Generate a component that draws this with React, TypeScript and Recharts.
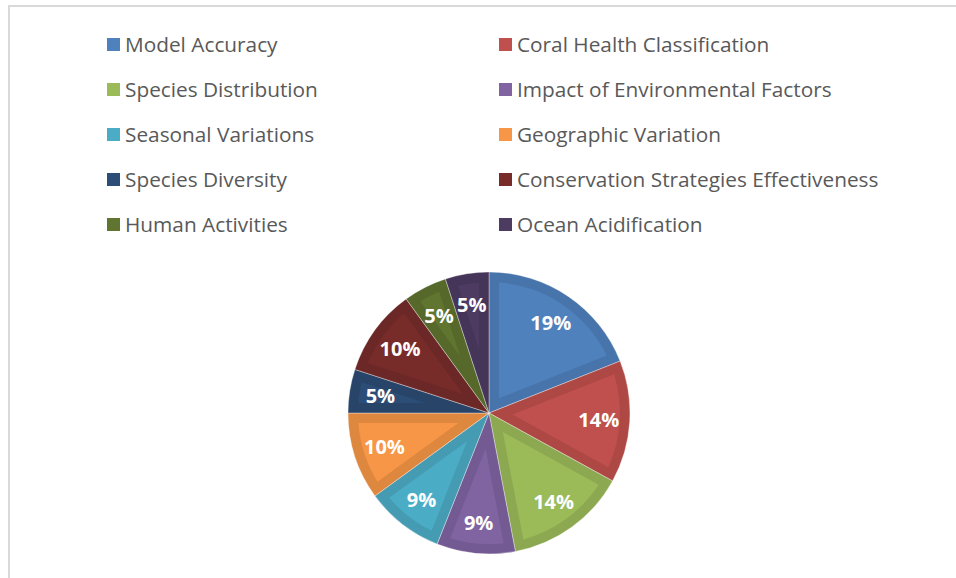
import { PieChart, Pie, Cell } from 'recharts';

const CATEGORIES = [
  'Model Accuracy',
  'Coral Health Classification',
  'Species Distribution',
  'Impact of Environmental Factors',
  'Seasonal Variations',
  'Geographic Variation',
  'Species Diversity',
  'Conservation Strategies Effectiveness',
  'Human Activities',
  'Ocean Acidification',
];

const SHARES = [19, 14, 14, 9, 9, 10, 5, 10, 5, 5];

const COLORS = [
  '#4F81BD',
  '#C0504D',
  '#9BBB59',
  '#8064A2',
  '#4BACC6',
  '#F79646',
  '#2C4D75',
  '#772C2A',
  '#5F7530',
  '#4D3B62',
];

const RADIAN = Math.PI / 180;
const BEVEL = 10;

// darker rim colour for the bevelled look
function shade(hex: string, k: number) {
  const n = parseInt(hex.slice(1), 16);
  const r = Math.round(((n >> 16) & 255) * k);
  const g = Math.round(((n >> 8) & 255) * k);
  const b = Math.round((n & 255) * k);
  return `rgb(${r},${g},${b})`;
}

function polar(cx: number, cy: number, r: number, angle: number) {
  return { x: cx + Math.cos(-angle * RADIAN) * r, y: cy + Math.sin(-angle * RADIAN) * r };
}

function renderSlice(props: any) {
  const { cx, cy, outerRadius, startAngle, endAngle, midAngle, index, percent } = props;
  const span = Math.abs(startAngle - endAngle);
  const half = (span / 2) * RADIAN;
  const R = outerRadius - BEVEL;
  const delta = Math.asin(BEVEL / R) / RADIAN;
  const apex = polar(cx, cy, BEVEL / Math.sin(half), midAngle);
  const p1 = polar(cx, cy, R, startAngle - delta);
  const p2 = polar(cx, cy, R, endAngle + delta);
  const large = span - 2 * delta > 180 ? 1 : 0;
  const d = `M${apex.x},${apex.y} L${p1.x},${p1.y} A${R},${R} 0 ${large} 1 ${p2.x},${p2.y} Z`;
  const pos = polar(cx, cy, outerRadius * 0.78, midAngle);
  return (
    <g key={`slice-${index}`}>
      <path d={d} fill={COLORS[index]} />
      <text
        x={pos.x}
        y={pos.y}
        fill="#ffffff"
        textAnchor="middle"
        dominantBaseline="central"
        fontFamily="'Open Sans', sans-serif"
        fontWeight={700}
        fontSize={20}
      >
        {`${Math.round(percent * 100)}%`}
      </text>
    </g>
  );
}

function LegendGrid() {
  return (
    <div style={{ position: 'absolute', left: 0, top: 0, width: 956, height: 250 }}>
      {CATEGORIES.map((name, i) => {
        const col = i % 2;
        const row = Math.floor(i / 2);
        return (
          <div
            key={name}
            style={{
              position: 'absolute',
              left: col === 0 ? 107 : 499,
              top: 45 + row * 45 - 15,
              height: 28,
              display: 'flex',
              alignItems: 'center',
              whiteSpace: 'nowrap',
              fontFamily: "'Open Sans', sans-serif",
              fontSize: 20.8,
              color: '#595959',
            }}
          >
            <span style={{ width: 13, height: 13, background: COLORS[i], marginRight: 5 }} />
            {name}
          </div>
        );
      })}
    </div>
  );
}

export default function App() {
  const data = CATEGORIES.map((name, i) => ({ name, value: SHARES[i] }));
  return (
    <div style={{ position: 'fixed', left: 0, top: 0, width: 956, height: 578, background: '#fff', overflow: 'hidden' }}>
      <div
        style={{
          position: 'absolute',
          left: 8,
          top: 5,
          width: 980,
          height: 600,
          border: '2px solid #d9d9d9',
        }}
      />
      <LegendGrid />
      <PieChart
        width={956}
        height={578}
        margin={{ top: 0, right: 0, bottom: 0, left: 0 }}
        style={{ position: 'absolute', left: 0, top: 0 }}
      >
        <Pie
          data={data}
          dataKey="value"
          nameKey="name"
          cx={489}
          cy={413}
          outerRadius={141}
          startAngle={90}
          endAngle={-270}
          stroke="rgba(255,255,255,0.35)"
          strokeWidth={1}
          label={renderSlice}
          labelLine={false}
          isAnimationActive={false}
        >
          {data.map((_, i) => (
            <Cell key={`cell-${i}`} fill={shade(COLORS[i], 0.9)} />
          ))}
        </Pie>
      </PieChart>
    </div>
  );
}
